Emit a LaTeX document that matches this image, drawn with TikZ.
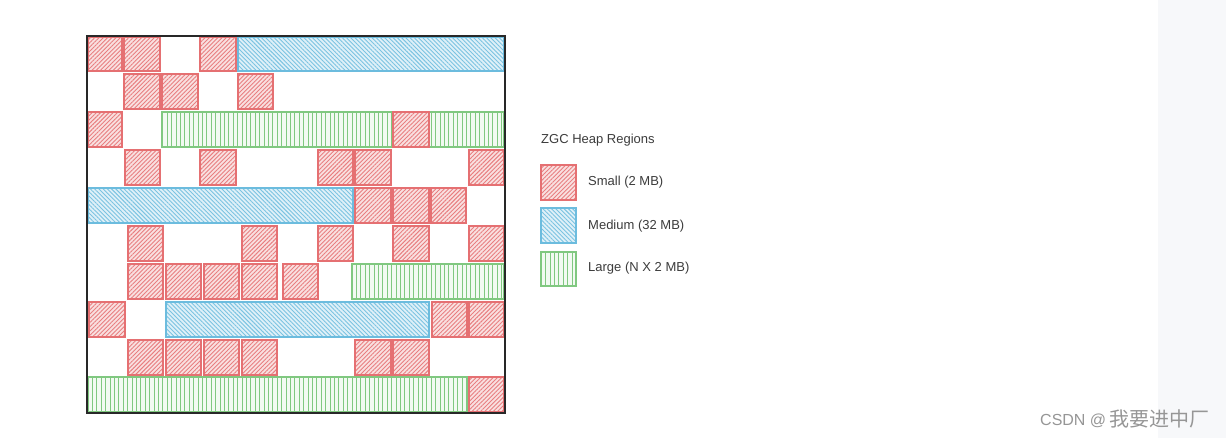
\documentclass[tikz,border=0pt]{standalone}
\usepackage{fontspec}
\setmainfont{Liberation Sans}
\newfontfamily\cjkfont{Noto Sans CJK SC}
\usetikzlibrary{patterns.meta}
\definecolor{smallc}{RGB}{229,112,114}
\definecolor{medc}{RGB}{108,188,222}
\definecolor{largec}{RGB}{128,200,128}
\definecolor{panelc}{RGB}{247,248,250}
\definecolor{wmc}{RGB}{150,150,150}
\definecolor{txtc}{RGB}{60,60,60}
\definecolor{framec}{RGB}{40,40,40}
\tikzset{
  smallr/.style={draw=smallc, line width=1.1pt, preaction={fill=smallc!22},
    pattern={Lines[angle=45,distance=3pt,line width=0.9pt]}, pattern color=smallc!90},
  medr/.style={draw=medc, line width=1.1pt, preaction={fill=medc!22},
    pattern={Lines[angle=-45,distance=3pt,line width=0.9pt]}, pattern color=medc!90},
  larger/.style={draw=largec, line width=1.1pt, preaction={fill=largec!10},
    pattern={Lines[angle=90,distance=4.4pt,line width=0.9pt]}, pattern color=largec},
  legtext/.style={anchor=west, inner sep=0pt, font=\fontsize{13}{15}\selectfont, text=txtc},
  wmtext/.style={anchor=base west, inner sep=0pt, text=wmc},
}
\newcommand\hcell[5]{\draw[#1] (#2,#3) rectangle (#4,#5);}
\begin{document}
\begin{tikzpicture}[x=1pt,y=-1pt]
\useasboundingbox (0,0) rectangle (1226,438);
\fill[white] (0,0) rectangle (1226,438);
\fill[panelc] (1158,0) rectangle (1226,438);
% row 1
\hcell{smallr}{88}{37}{122}{71}
\hcell{smallr}{124}{37}{160}{71}
\hcell{smallr}{200}{37}{236}{71}
\hcell{medr}{238}{37}{504}{71}
% row 2
\hcell{smallr}{124}{74}{160}{109}
\hcell{smallr}{162}{74}{198}{109}
\hcell{smallr}{238}{74}{273}{109}
% row 3
\hcell{smallr}{88}{112}{122}{147}
\hcell{larger}{162}{112}{504}{147}
\hcell{smallr}{393}{112}{429}{147}
% row 4
\hcell{smallr}{125}{150}{160}{185}
\hcell{smallr}{200}{150}{236}{185}
\hcell{smallr}{318}{150}{353}{185}
\hcell{smallr}{355}{150}{391}{185}
\hcell{smallr}{469}{150}{504}{185}
% row 5
\hcell{medr}{88}{188}{353}{223}
\hcell{smallr}{355}{188}{391}{223}
\hcell{smallr}{393}{188}{429}{223}
\hcell{smallr}{431}{188}{466}{223}
% row 6
\hcell{smallr}{128}{226}{163}{261}
\hcell{smallr}{242}{226}{277}{261}
\hcell{smallr}{318}{226}{353}{261}
\hcell{smallr}{393}{226}{429}{261}
\hcell{smallr}{469}{226}{504}{261}
% row 7
\hcell{smallr}{128}{264}{163}{299}
\hcell{smallr}{166}{264}{201}{299}
\hcell{smallr}{204}{264}{239}{299}
\hcell{smallr}{242}{264}{277}{299}
\hcell{smallr}{283}{264}{318}{299}
\hcell{larger}{352}{264}{504}{299}
% row 8
\hcell{smallr}{89}{302}{125}{337}
\hcell{medr}{166}{302}{429}{337}
\hcell{smallr}{432}{302}{467}{337}
\hcell{smallr}{469}{302}{504}{337}
% row 9
\hcell{smallr}{128}{340}{163}{375}
\hcell{smallr}{166}{340}{201}{375}
\hcell{smallr}{204}{340}{239}{375}
\hcell{smallr}{242}{340}{277}{375}
\hcell{smallr}{355}{340}{391}{375}
\hcell{smallr}{393}{340}{429}{375}
% row 10
\hcell{larger}{88}{377}{467}{412}
\hcell{smallr}{469}{377}{504}{412}
% frame
\draw[framec, line width=2pt] (87,36) rectangle (505,413);
% legend
\node[legtext] (title) at (541,140) {ZGC Heap Regions};
\hcell{smallr}{541}{165}{576}{200}
\hcell{medr}{541}{208}{576}{243}
\hcell{larger}{541}{252}{576}{286}
\node[legtext] (lsmall) at (588,182) {Small (2 MB)};
\node[legtext] (lmed) at (588,226) {Medium (32 MB)};
\node[legtext] (llarge) at (588,268) {Large (N X 2 MB)};
% watermark
\node[wmtext, font=\fontsize{16}{18}\selectfont] (wm1) at (1040,425) {CSDN @};
\node[wmtext, font=\cjkfont\fontsize{20}{22}\selectfont] (wm2) at (1109,426) {我要进中厂};
\end{tikzpicture}
\end{document}
